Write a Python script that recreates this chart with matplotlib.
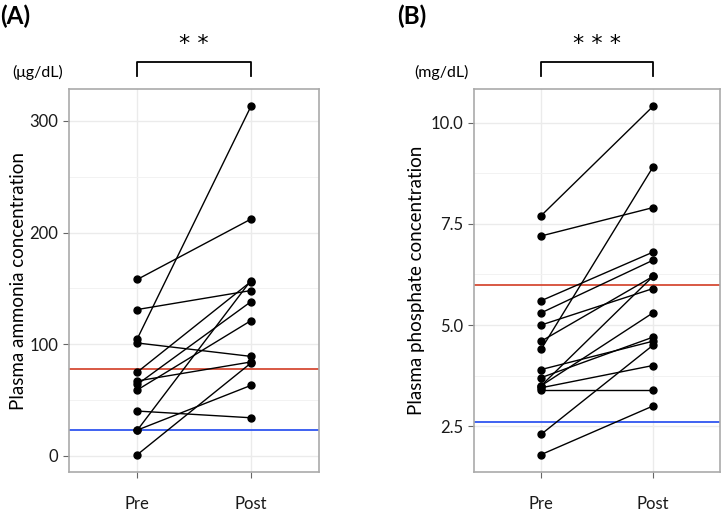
import numpy as np
import matplotlib
matplotlib.use("Agg")
import matplotlib.pyplot as plt
import matplotlib.transforms as mtransforms
from matplotlib.ticker import MultipleLocator

plt.rcParams['font.family'] = ['Lato', 'DejaVu Sans']

groups = ['Pre', 'Post']

# panel A: plasma ammonia (ug/dL), one pair per patient
ammonia_pre = [158, 131, 105, 101, 75, 67, 64, 59, 40, 23, 23, 1]
ammonia_post = [212, 148, 313, 89, 156, 84, 138, 121, 34, 157, 63, 83]
ammonia_upper = 78
ammonia_lower = 23

# panel B: plasma phosphate (mg/dL)
phos_pre = [7.7, 7.2, 5.6, 5.3, 5.0, 4.6, 4.4, 3.9, 3.7, 3.5, 3.5, 3.45, 3.4, 2.3, 1.8]
phos_post = [10.4, 7.9, 6.8, 6.6, 5.9, 6.2, 8.9, 4.6, 4.7, 6.2, 5.3, 4.0, 3.4, 4.5, 3.0]
phos_upper = 6.0
phos_lower = 2.6

W, H = 726, 512
fig = plt.figure(figsize=(W / 100, H / 100), dpi=100)


def panel(rect, pre, post, upper, lower, major, minor, fmt, ylabel, ylabel_x,
          unit, unit_x, tag, tag_x, stars):
    ax = fig.add_axes(rect)
    x = np.arange(len(groups))
    for a, b in zip(pre, post):
        ax.plot(x, [a, b], color='black', lw=1.0, zorder=3)
        ax.plot(x, [a, b], 'o', color='black', ms=5, zorder=4)
    ax.axhline(upper, color='#D64B35', lw=1.3, zorder=2)
    ax.axhline(lower, color='#2F55F0', lw=1.3, zorder=2)

    lo, hi = min(pre + post), max(pre + post)
    pad = (hi - lo) * 0.05
    ax.set_ylim(lo - pad, hi + pad)
    ax.set_xlim(-0.6, 1.6)
    ax.set_xticks(x)
    ax.set_xticklabels(groups)
    ax.yaxis.set_major_locator(MultipleLocator(major))
    ax.yaxis.set_minor_locator(MultipleLocator(minor))
    ax.yaxis.set_major_formatter(fmt)
    ax.grid(True, which='major', color='#EBEBEB', lw=1.0, zorder=0)
    ax.grid(True, which='minor', axis='y', color='#F2F2F2', lw=0.7, zorder=0)
    ax.tick_params(which='minor', length=0)
    ax.tick_params(axis='both', which='major', length=4, width=0.8, color='#666666',
                   labelsize=12, labelcolor='#1A1A1A')
    ax.tick_params(axis='x', pad=13)
    ax.tick_params(axis='y', pad=4)
    for s in ax.spines.values():
        s.set_color('#AAAAAA')
        s.set_linewidth(1.2)
    ax.set_ylabel(ylabel, fontsize=13.5)
    # label anchor is its right-hand edge (text rotated 90 degrees)
    ax.yaxis.set_label_coords((ylabel_x - rect[0] * W) / (rect[2] * W), 0.5)

    # unit and panel tag above the axes
    fig.text(unit_x / W, 1 - 72 / H, unit, fontsize=11.5, ha='center', va='center')
    fig.text(tag_x / W, 1 - 16 / H, tag, fontsize=17.5, fontweight='bold',
             ha='left', va='center')

    # significance bracket
    tr = mtransforms.blended_transform_factory(ax.transData, fig.transFigure)
    y_top = 1 - 62 / H
    y_leg = 1 - 76 / H
    ax.plot([0, 0, 1, 1], [y_leg, y_top, y_top, y_leg], color='black', lw=1.3,
            transform=tr, clip_on=False)
    ax.text(0.5, 1 - 44 / H, stars, transform=tr, ha='center', va='center',
            fontsize=16, family='DejaVu Sans')
    return ax


panel([69.3 / W, 40 / H, 249.7 / W, 383 / H], ammonia_pre, ammonia_post,
      ammonia_upper, ammonia_lower, 100, 50, '{x:.0f}',
      'Plasma ammonia concentration', 27, '(\u03bcg/dL)', 38, '(A)', 0, '* *')
panel([474 / W, 40 / H, 246 / W, 383 / H], phos_pre, phos_post,
      phos_upper, phos_lower, 2.5, 1.25, '{x:.1f}',
      'Plasma phosphate concentration', 425, '(mg/dL)', 441, '(B)', 397, '* * *')

fig.savefig('out.png', dpi=100)
